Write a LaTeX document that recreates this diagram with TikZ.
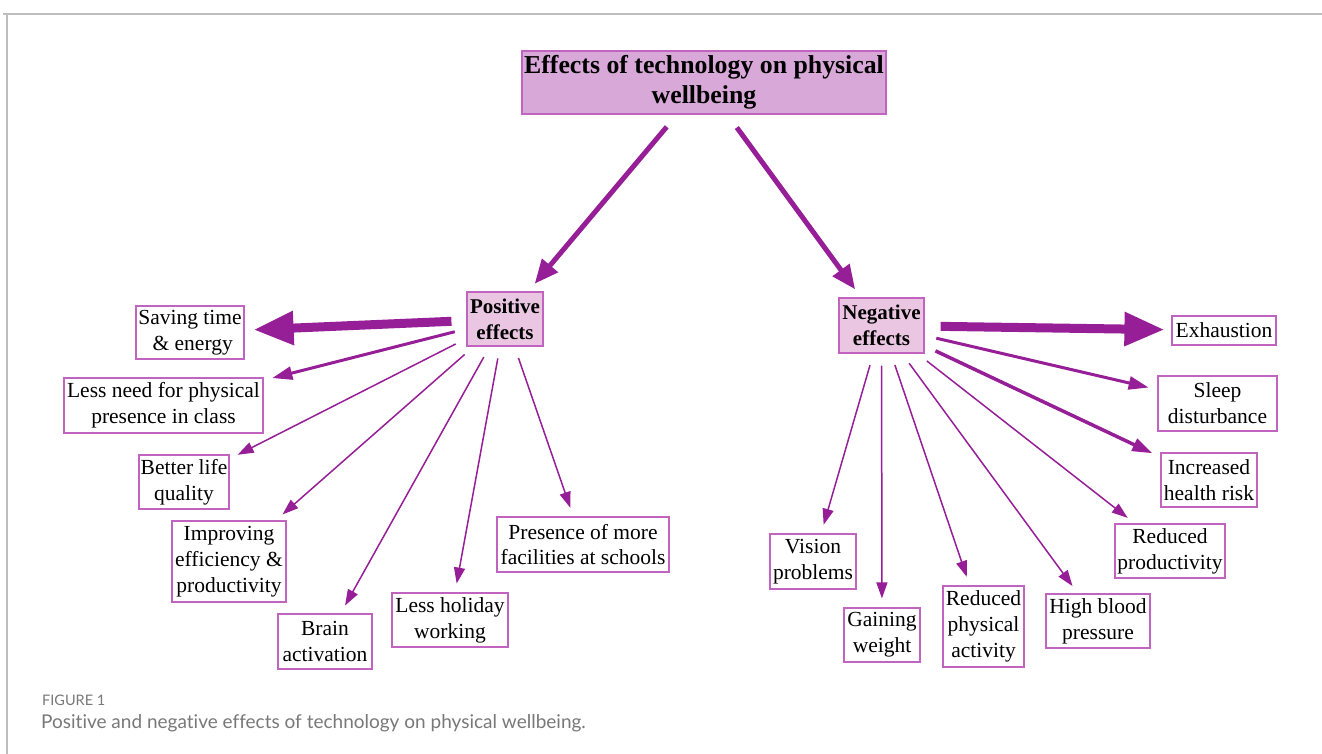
\documentclass[tikz,border=0pt]{standalone}
\usepackage{fontspec}
\setmainfont{Liberation Serif}
\newfontfamily\capfont[Ligatures=NoCommon]{Lato}
\usetikzlibrary{arrows.meta}
\definecolor{arr}{RGB}{150,30,150}
\definecolor{bord}{RGB}{192,100,192}
\definecolor{titlefill}{RGB}{216,168,216}
\definecolor{catfill}{RGB}{234,198,226}
\definecolor{framegray}{RGB}{190,190,190}
\definecolor{captxt}{RGB}{120,120,120}
\begin{document}
\begin{tikzpicture}[x=1pt,y=-1pt,
  box/.style={draw=bord, line width=1.2pt, fill=white, align=center, inner sep=0pt,
    font=\fontsize{21.5}{25.8}\selectfont},
  cat/.style={box, fill=catfill, font=\fontsize{21}{26}\selectfont\bfseries},
  titlebox/.style={box, fill=titlefill, font=\fontsize{25.8}{30.5}\selectfont\bfseries},
  conn/.style={draw=arr, shorten <=12pt, shorten >=9pt},
  hugearr/.style={conn, line width=9pt, -{Triangle[length=40pt,width=32pt]}},
  bigarr/.style={conn, line width=5pt, -{Triangle[length=24pt,width=20pt]}, shorten <=16pt, shorten >=10pt},
  midarr/.style={conn, line width=3pt, -{Triangle[length=20pt,width=13pt]}},
  thinarr/.style={conn, line width=1.5pt, -{Triangle[length=16pt,width=11pt]}}
]
\useasboundingbox (0,0) rectangle (1322,754);
% frame
\draw[framegray, line width=1.5pt] (3,14) -- (1322,14);
\draw[framegray, line width=1.5pt] (7,14) -- (7,754);

% nodes
\node[titlebox, minimum width=364pt, minimum height=63pt] (title) at (704,82.5) {Effects of technology on physical\\wellbeing};
\node[cat, minimum width=76pt, minimum height=54pt] (pos) at (505,319) {Positive\\effects};
\node[cat, minimum width=85pt, minimum height=55pt] (neg) at (881.5,325.5) {Negative\\effects};

\node[box, minimum width=108pt, minimum height=53pt] (save) at (190,332.5) {Saving time\\\ \& energy};
\node[box, minimum width=199pt, minimum height=55pt] (need) at (163.5,405.5) {Less need for physical\\presence in class};
\node[box, minimum width=90pt, minimum height=54pt] (better) at (184,482) {Better life\\quality};
\node[box, minimum width=114pt, minimum height=81pt] (improv) at (229,561.5) {Improving\\efficiency \&\\productivity};
\node[box, minimum width=94pt, minimum height=55pt] (brain) at (325,641.5) {Brain\\activation};
\node[box, minimum width=116pt, minimum height=54pt] (holiday) at (450,620) {Less holiday\\working};
\node[box, minimum width=172pt, minimum height=55pt] (presence) at (583,544.5) {Presence of more\\facilities at schools};

\node[box, minimum width=104pt, minimum height=29pt] (exh) at (1224,330.5) {Exhaustion};
\node[box, minimum width=119pt, minimum height=55pt] (sleep) at (1217.5,403.5) {Sleep\\disturbance};
\node[box, minimum width=96pt, minimum height=54pt] (incr) at (1209,480) {Increased\\health risk};
\node[box, minimum width=110pt, minimum height=54pt] (redprod) at (1170,551) {Reduced\\productivity};
\node[box, minimum width=86pt, minimum height=55pt] (vision) at (813,561.5) {Vision\\problems};
\node[box, minimum width=76pt, minimum height=54pt] (gain) at (882,635) {Gaining\\weight};
\node[box, minimum width=81pt, minimum height=81pt] (redphys) at (983.5,626.5) {Reduced\\physical\\activity};
\node[box, minimum width=104pt, minimum height=54pt] (high) at (1098,621) {High blood\\pressure};

% connectors
\draw[bigarr] (title) -- (pos);
\draw[bigarr] (title) -- (neg);

\draw[hugearr, shorten <=15pt, shorten >=9pt] (pos) -- (save);
\draw[midarr] (pos) -- (need);
\draw[thinarr] (pos) -- (better);
\draw[thinarr] (pos) -- (improv);
\draw[thinarr] (pos) -- (brain);
\draw[thinarr] (pos) -- (holiday);
\draw[thinarr] (pos) -- (presence);

\draw[hugearr, shorten <=16pt, shorten >=7pt] (neg) -- (exh);
\draw[midarr] (neg) -- (sleep);
\draw[midarr, line width=3.5pt] (neg) -- (incr);
\draw[thinarr] (neg) -- (redprod);
\draw[thinarr] (neg) -- (high);
\draw[thinarr] (neg) -- (redphys);
\draw[thinarr] (neg) -- (gain);
\draw[thinarr] (neg) -- (vision);

% caption
\node[anchor=base west, inner sep=0pt, text=captxt, font=\capfont\fontsize{14.5}{17}\selectfont] (figlabel) at (42,705) {FIGURE 1};
\node[anchor=base west, inner sep=0pt, text=captxt, font=\capfont\fontsize{19}{22}\selectfont] (caption) at (41,728) {Positive and negative effects of technology on physical wellbeing.};
\end{tikzpicture}
\end{document}
